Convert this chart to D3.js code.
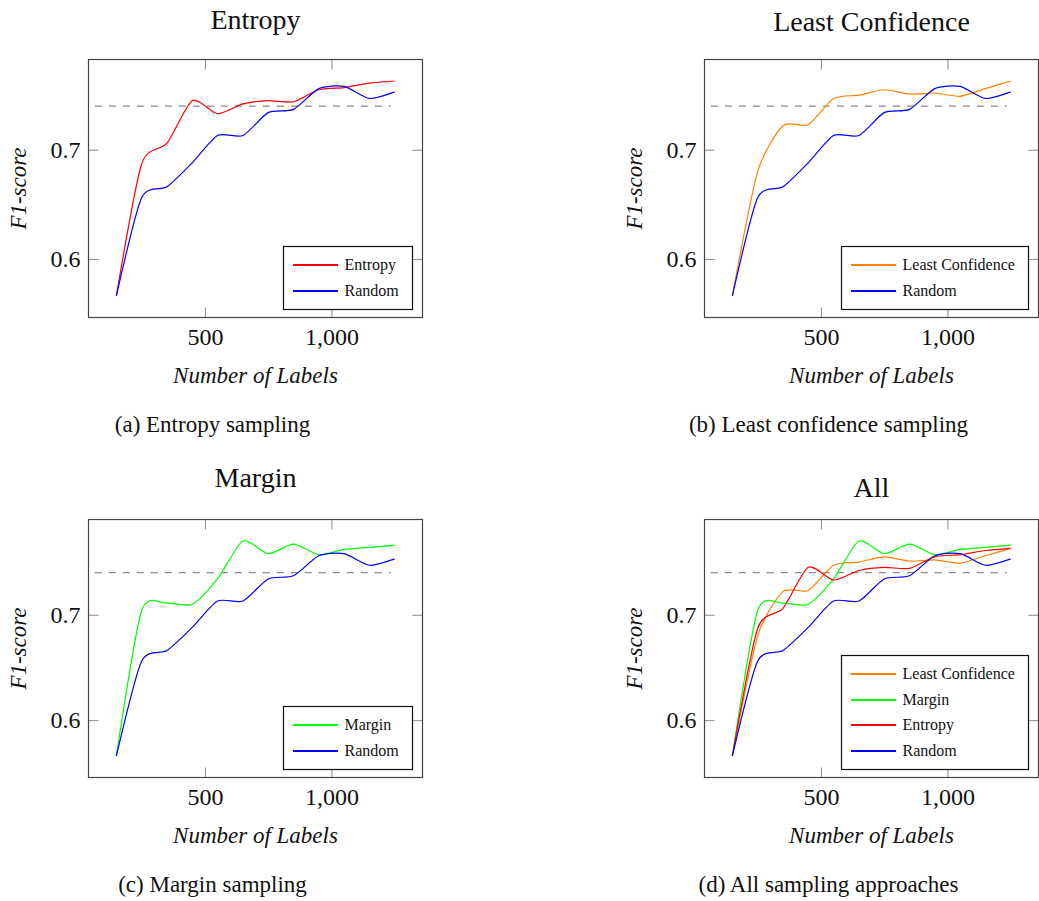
<!DOCTYPE html>
<html>
<head>
<meta charset="utf-8">
<script src="https://cdn.jsdelivr.net/npm/d3@7"></script>
<style>
  body { margin: 0; background: #fff; }
  svg { display: block; }
  text { font-family: 'Liberation Serif', 'Times New Roman', serif; }
</style>
</head>
<body>
<div id="chart"></div>
<script>
//----------DATA----------
// number of labels (x) and F1-score per sampling strategy
var labels = [150, 250, 350, 450, 550, 650, 750, 850, 950, 1050, 1150, 1250];
var randomF1 = [0.566, 0.656, 0.666, 0.688, 0.713, 0.713, 0.734, 0.737, 0.756, 0.758, 0.747, 0.753];
var entropyF1 = [0.566, 0.687, 0.706, 0.745, 0.733, 0.742, 0.745, 0.744, 0.755, 0.757, 0.761, 0.763];
var leastConfF1 = [0.566, 0.680, 0.722, 0.723, 0.747, 0.750, 0.755, 0.751, 0.752, 0.749, 0.756, 0.763];
var marginF1 = [0.566, 0.704, 0.711, 0.710, 0.734, 0.770, 0.758, 0.767, 0.757, 0.762, 0.764, 0.766];

// dashed reference line
var refX = [65, 1235];
var refF1 = 0.74;

// ticks
var xTicks = [500, 1000];
var yTicks = [0.6, 0.7];

var titles = ['Entropy', 'Least Confidence', 'Margin', 'All'];
var captions = ['(a) Entropy sampling', '(b) Least confidence sampling', '(c) Margin sampling', '(d) All sampling approaches'];

//----------SVG----------
var svgWidth = 1039;
var svgHeight = 901;
var boxW = 334;
var boxH = 258;
var serif = "'Liberation Serif', 'Times New Roman', serif";

var colors = {
    'Entropy': '#ff0000',
    'Random': '#0000ff',
    'Least Confidence': '#ff8000',
    'Margin': '#00ff00'
};

var seriesData = {
    'Entropy': entropyF1,
    'Random': randomF1,
    'Least Confidence': leastConfF1,
    'Margin': marginF1
};

var panels = [
    { series: ['Entropy', 'Random'], left: 88.5, top: 59.5, titleY: -31 },
    { series: ['Least Confidence', 'Random'], left: 704.5, top: 59.5, titleY: -29 },
    { series: ['Margin', 'Random'], left: 88.5, top: 519.5, titleY: -33 },
    { series: ['Least Confidence', 'Margin', 'Entropy', 'Random'], left: 704.5, top: 519.5, titleY: -23 }
];

var svg = d3.select('#chart')
    .append('svg')
    .attr('width', svgWidth)
    .attr('height', svgHeight);

panels.forEach(function(p, i) {
    var g = svg.append('g')
        .attr('transform', `translate(${p.left}, ${p.top})`);

    // x scale: data range enlarged by 10% on each side
    var xMin = d3.min(labels), xMax = d3.max(labels);
    var xPad = (xMax - xMin) * 0.1;
    var xScale = d3.scaleLinear()
        .domain([xMin - xPad, xMax + xPad])
        .range([0, boxW]);

    var allVals = [];
    p.series.forEach(function(s) { allVals = allVals.concat(seriesData[s]); });
    var yMin = d3.min(allVals), yMax = d3.max(allVals);
    var yPad = (yMax - yMin) * 0.1;
    var yScale = d3.scaleLinear()
        .domain([yMin - yPad, yMax + yPad])
        .range([boxH, 0]);

    // axes with inward ticks
    var axBottom = g.append('g')
        .attr('transform', `translate(0, ${boxH})`)
        .call(d3.axisBottom(xScale).tickValues(xTicks).tickSize(-10).tickPadding(10).tickFormat(d3.format(',')));
    var axTop = g.append('g')
        .call(d3.axisTop(xScale).tickValues(xTicks).tickSize(-10).tickFormat(''));
    var axLeft = g.append('g')
        .call(d3.axisLeft(yScale).tickValues(yTicks).tickSize(-10).tickPadding(8).tickFormat(d3.format('.1f')));
    var axRight = g.append('g')
        .attr('transform', `translate(${boxW}, 0)`)
        .call(d3.axisRight(yScale).tickValues(yTicks).tickSize(-10).tickFormat(''));

    [axBottom, axTop, axLeft, axRight].forEach(function(a) {
        a.attr('font-family', serif).attr('font-size', 24);
        a.select('.domain').remove();
        a.selectAll('line').attr('stroke', '#8a8a8a').attr('stroke-width', 1);
        a.selectAll('text').attr('fill', '#111');
    });

    // dashed reference line
    var refLine = d3.line()
        .x(d => xScale(d))
        .y(() => yScale(refF1));
    g.append('path')
        .datum(refX)
        .attr('d', refLine)
        .attr('fill', 'none')
        .attr('stroke', '#8c8c8c')
        .attr('stroke-width', 1.2)
        .attr('stroke-dasharray', '7,7');

    // smooth curves
    var line = d3.line()
        .x((d, j) => xScale(labels[j]))
        .y(d => yScale(d))
        .curve(d3.curveCardinal.tension(0.3));

    p.series.forEach(function(s) {
        g.append('path')
            .datum(seriesData[s])
            .attr('d', line)
            .attr('fill', 'none')
            .attr('stroke', colors[s])
            .attr('stroke-width', 1.2);
    });

    // axis frame
    g.append('rect')
        .attr('x', 0)
        .attr('y', 0)
        .attr('width', boxW)
        .attr('height', boxH)
        .attr('fill', 'none')
        .attr('stroke', '#444')
        .attr('stroke-width', 1.2);

    // legend
    var rowH = 25.5;
    var legH = Math.round(p.series.length * rowH + 12);
    var leg = g.append('g');
    var legRect = leg.append('rect')
        .attr('fill', '#fff')
        .attr('stroke', '#111')
        .attr('stroke-width', 1.2);
    var maxLen = 0;
    p.series.forEach(function(s, k) {
        var cy = Math.round(18 + k * rowH);
        leg.append('rect')
            .attr('x', 9).attr('y', cy - 0.5)
            .attr('width', 45).attr('height', 1.5)
            .attr('fill', colors[s])
            .attr('shape-rendering', 'crispEdges');
        var t = leg.append('text')
            .attr('x', 61)
            .attr('y', cy + 5.5)
            .attr('font-size', 16)
            .attr('fill', '#111')
            .text(s);
        maxLen = Math.max(maxLen, t.node().getComputedTextLength());
    });
    var legW = Math.round(61 + maxLen + 14);
    legRect.attr('width', legW).attr('height', legH);
    leg.attr('transform', `translate(${boxW - 10 - legW}, ${boxH - 8 - legH})`);

    // title
    g.append('text')
        .attr('x', boxW / 2)
        .attr('y', p.titleY)
        .attr('text-anchor', 'middle')
        .attr('font-size', 28)
        .attr('fill', '#111')
        .text(titles[i]);

    // axis labels
    g.append('text')
        .attr('x', boxW / 2)
        .attr('y', boxH + 65)
        .attr('text-anchor', 'middle')
        .attr('font-size', 23)
        .attr('font-style', 'italic')
        .attr('fill', '#111')
        .text('Number of Labels');

    g.append('text')
        .attr('transform', `translate(-63, ${boxH / 2}) rotate(-90)`)
        .attr('text-anchor', 'middle')
        .attr('font-size', 23)
        .attr('font-style', 'italic')
        .attr('fill', '#111')
        .text('F1-score');

    // caption
    g.append('text')
        .attr('x', 124)
        .attr('y', boxH + 114.5)
        .attr('text-anchor', 'middle')
        .attr('font-size', 23)
        .attr('fill', '#111')
        .text(captions[i]);
});
</script>
</body>
</html>
